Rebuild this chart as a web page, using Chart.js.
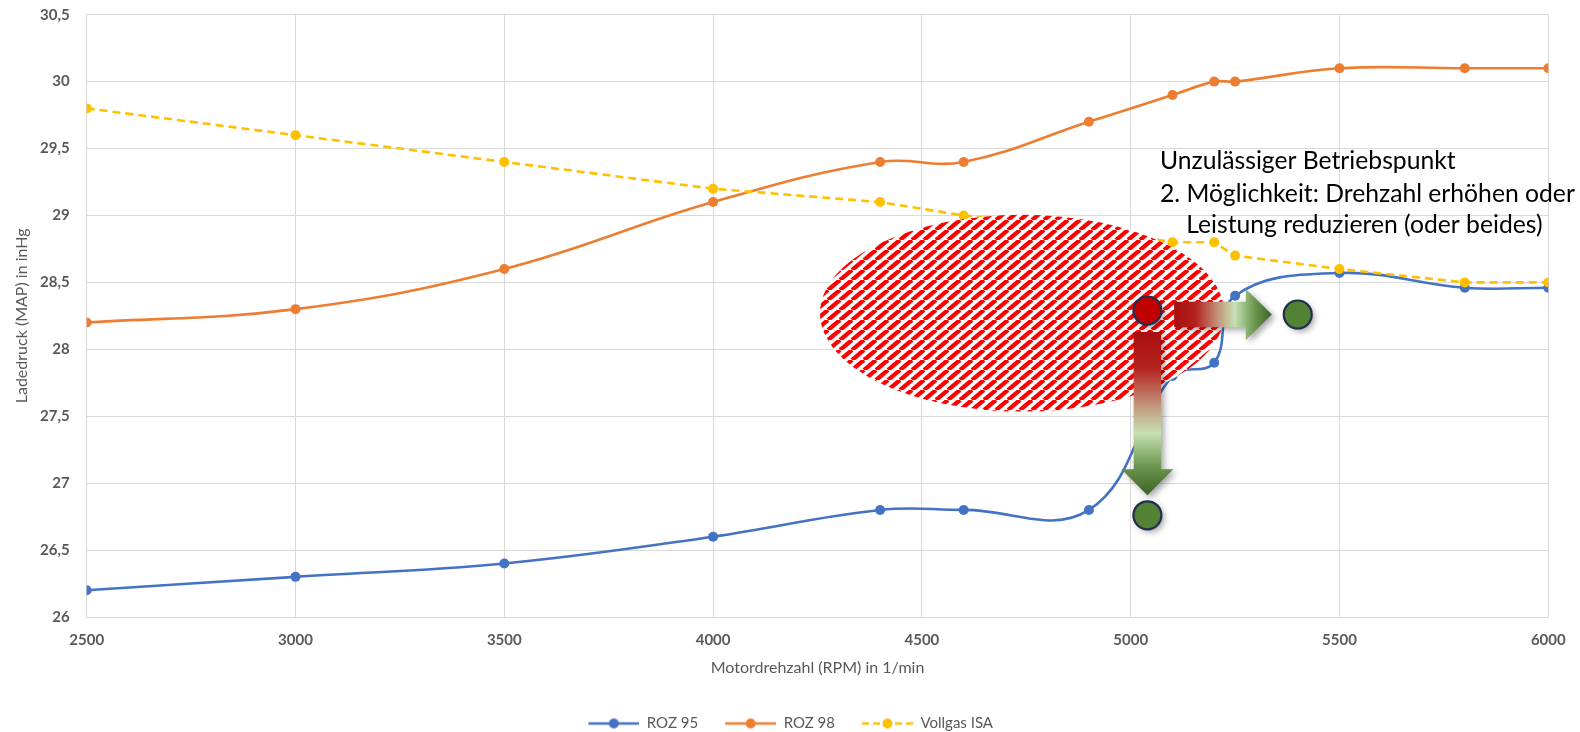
<!DOCTYPE html>
<html>
<head>
<meta charset="utf-8">
<script src="https://cdn.jsdelivr.net/npm/chart.js@4.4.1/dist/chart.umd.min.js"></script>
<style>
  html, body { margin: 0; padding: 0; background: #fff; }
</style>
</head>
<body>
<canvas id="chart" width="1580" height="732"></canvas>
<script>
// Motordrehzahl (x) und Ladedruck je Kurve (y)
const rpm     = [2500, 3000, 3500, 4000, 4400, 4600, 4900, 5100, 5200, 5250, 5500, 5800, 6000];
const roz95   = [26.2, 26.3, 26.4, 26.6, 26.8, 26.8, 26.8, 27.8, 27.9, 28.4, 28.57, 28.46, 28.46];
const roz98   = [28.2, 28.3, 28.6, 29.1, 29.4, 29.4, 29.7, 29.9, 30.0, 30.0, 30.1, 30.1, 30.1];
const vollgas = [29.8, 29.6, 29.4, 29.2, 29.1, 29.0, 28.9, 28.8, 28.8, 28.7, 28.6, 28.5, 28.5];

const seriesNames = ['ROZ 95', 'ROZ 98', 'Vollgas ISA'];
const xTicks = [2500, 3000, 3500, 4000, 4500, 5000, 5500, 6000];

// Anmerkungen (in Datenkoordinaten: rpm, inHg)
const zone       = [4740, 28.27, 484, 0.735];   // Mitte x, Mitte y, Radius x, Radius y
const badPoint   = [5040, 28.29];
const fixRpm     = [5400, 28.26];
const fixPower   = [5040, 26.76];
const arrowRight = [5104, 28.26, 5338, 28.26];
const arrowDown  = [5040, 28.13, 5040, 26.91];
const noteAnchor = [5070, 29.345];
const noteLines  = ['Unzulässiger Betriebspunkt', '2. Möglichkeit: Drehzahl erhöhen oder', 'Leistung reduzieren (oder beides)'];

const GREY = '#595959';
const FONT = 'Lato, "Open Sans", sans-serif';

const toPoints = vals => rpm.map((r, i) => ({x: r, y: vals[i]}));

function legendIcon(color, dashed) {
  const c = document.createElement('canvas');
  c.width = 68; c.height = 12;
  const g = c.getContext('2d');
  g.strokeStyle = color;
  g.lineWidth = 2.5;
  if (dashed) g.setLineDash([7, 4]);
  g.beginPath(); g.moveTo(17, 6); g.lineTo(68, 6); g.stroke();
  g.fillStyle = color;
  g.beginPath(); g.arc(42.5, 6, 5, 0, Math.PI * 2); g.fill();
  return c;
}

function hatchPattern(ctx) {
  const w = 12, h = 10;
  const c = document.createElement('canvas');
  c.width = w; c.height = h;
  const g = c.getContext('2d');
  g.fillStyle = '#fff';
  g.fillRect(0, 0, w, h);
  g.strokeStyle = '#ff0000';
  g.lineWidth = 4.3;
  for (let k = -1; k <= 1; k++) {
    g.beginPath();
    g.moveTo(k * w, h);
    g.lineTo(k * w + w, 0);
    g.stroke();
  }
  return ctx.createPattern(c, 'repeat');
}

function arrow(ctx, x0, y0, x1, y1, shaftW, headW, headL, stops) {
  const len = Math.hypot(x1 - x0, y1 - y0);
  ctx.save();
  ctx.translate(x0, y0);
  ctx.rotate(Math.atan2(y1 - y0, x1 - x0));
  const grad = ctx.createLinearGradient(0, 0, len, 0);
  stops.forEach(([o, c]) => grad.addColorStop(o, c));
  ctx.beginPath();
  ctx.moveTo(0, -shaftW / 2);
  ctx.lineTo(len - headL, -shaftW / 2);
  ctx.lineTo(len - headL, -headW / 2);
  ctx.lineTo(len, 0);
  ctx.lineTo(len - headL, headW / 2);
  ctx.lineTo(len - headL, shaftW / 2);
  ctx.lineTo(0, shaftW / 2);
  ctx.closePath();
  ctx.shadowColor = 'rgba(0,0,0,0.35)';
  ctx.shadowBlur = 6;
  ctx.shadowOffsetX = 3;
  ctx.shadowOffsetY = 3;
  ctx.fillStyle = grad;
  ctx.fill();
  ctx.restore();
}

function dot(ctx, x, y, fill) {
  ctx.save();
  ctx.shadowColor = 'rgba(0,0,0,0.35)';
  ctx.shadowBlur = 6;
  ctx.shadowOffsetX = 3;
  ctx.shadowOffsetY = 3;
  ctx.beginPath();
  ctx.arc(x, y, 14, 0, Math.PI * 2);
  ctx.fillStyle = fill;
  ctx.fill();
  ctx.shadowColor = 'transparent';
  ctx.lineWidth = 2.2;
  ctx.strokeStyle = '#1f2f4f';
  ctx.stroke();
  ctx.restore();
}

const annotations = {
  id: 'annotations',
  afterDatasetsDraw(chart) {
    const {ctx, scales: {x, y}} = chart;
    const px = v => x.getPixelForValue(v);
    const py = v => y.getPixelForValue(v);

    ctx.save();
    ctx.beginPath();
    ctx.ellipse(px(zone[0]), py(zone[1]),
      px(zone[0] + zone[2]) - px(zone[0]),
      py(zone[1] - zone[3]) - py(zone[1]), 0, 0, Math.PI * 2);
    ctx.fillStyle = hatchPattern(ctx);
    ctx.fill();
    ctx.restore();

    const stops = [[0, '#a80f0f'], [0.22, '#b3221d'], [0.45, '#c3957c'], [0.62, '#c6e0b4'], [0.82, '#6d9850'], [1, '#3b6325']];
    arrow(ctx, px(arrowRight[0]), py(arrowRight[1]), px(arrowRight[2]), py(arrowRight[3]), 25.6, 51, 26, stops);
    arrow(ctx, px(arrowDown[0]), py(arrowDown[1]), px(arrowDown[2]), py(arrowDown[3]), 27.4, 52, 26, stops);

    dot(ctx, px(badPoint[0]), py(badPoint[1]), '#c00000');
    dot(ctx, px(fixRpm[0]), py(fixRpm[1]), '#548235');
    dot(ctx, px(fixPower[0]), py(fixPower[1]), '#548235');

    ctx.save();
    ctx.fillStyle = '#000';
    ctx.textBaseline = 'alphabetic';
    let size = 22;
    ctx.font = size + 'px ' + FONT;
    size = size * 415 / ctx.measureText(noteLines[1]).width;
    ctx.font = size.toFixed(2) + 'px ' + FONT;
    const tx = px(noteAnchor[0]);
    const ty = py(noteAnchor[1]);
    ctx.textAlign = 'left';
    ctx.fillText(noteLines[0], tx, ty);
    ctx.fillText(noteLines[1], tx, ty + 32.3);
    const mid = tx + ctx.measureText(noteLines[1]).width / 2;
    ctx.textAlign = 'center';
    ctx.fillText(noteLines[2], mid - 3, ty + 64);
    ctx.restore();
  }
};

const colors = ['#4472c4', '#ed7d31', '#ffc000'];
const values = [roz95, roz98, vollgas];
const icons = colors.map((c, i) => legendIcon(c, i === 2));

new Chart(document.getElementById('chart'), {
  type: 'line',
  data: {
    datasets: values.map((v, i) => ({
      label: seriesNames[i],
      data: toPoints(v),
      borderColor: colors[i],
      backgroundColor: colors[i],
      borderWidth: 2.6,
      borderDash: i === 2 ? [8, 5] : [],
      tension: i === 2 ? 0 : 0.4,
      pointRadius: 5,
      pointBorderWidth: 0,
      pointBackgroundColor: colors[i],
      order: 3 - i
    }))
  },
  options: {
    responsive: false,
    animation: false,
    devicePixelRatio: 1,
    layout: { padding: { left: 16, right: 31.7, top: 14.7, bottom: -9 } },
    plugins: {
      tooltip: { enabled: false },
      legend: {
        position: 'bottom',
        labels: {
          usePointStyle: true,
          pointStyleWidth: 68,
          boxHeight: 12,
          padding: 10,
          color: GREY,
          font: { family: FONT, size: 15 },
          generateLabels: chart => chart.data.datasets.map((ds, i) => ({
            text: ds.label,
            pointStyle: icons[i],
            fillStyle: colors[i],
            strokeStyle: 'transparent',
            lineWidth: 0,
            hidden: false,
            datasetIndex: i,
            fontColor: GREY
          }))
        }
      }
    },
    scales: {
      x: {
        type: 'linear',
        min: 2500,
        max: 6000,
        afterBuildTicks: s => { s.ticks = xTicks.map(v => ({value: v})); },
        afterFit: s => { s.height = 89; },
        grid: { color: '#d9d9d9', drawTicks: false },
        border: { color: '#d9d9d9' },
        ticks: {
          padding: 14,
          color: GREY,
          font: { family: FONT, size: 15, weight: 'bold' },
          callback: v => String(v)
        },
        title: {
          display: true,
          text: 'Motordrehzahl (RPM) in 1/min',
          color: GREY,
          font: { family: FONT, size: 16 },
          padding: { top: 0, bottom: 29 }
        }
      },
      y: {
        min: 26,
        max: 30.5,
        afterFit: s => { s.width = 70.7; },
        grid: { color: '#d9d9d9', drawTicks: true, tickLength: 17, tickColor: 'rgba(0,0,0,0)' },
        border: { color: '#d9d9d9' },
        ticks: {
          stepSize: 0.5,
          padding: 0,
          color: GREY,
          font: { family: FONT, size: 15, weight: 'bold' },
          callback: v => String(v).replace('.', ',')
        },
        title: {
          display: true,
          text: 'Ladedruck (MAP) in inHg',
          color: GREY,
          font: { family: FONT, size: 16 },
          padding: { top: -4, bottom: 0 }
        }
      }
    }
  },
  plugins: [annotations]
});
</script>
</body>
</html>
